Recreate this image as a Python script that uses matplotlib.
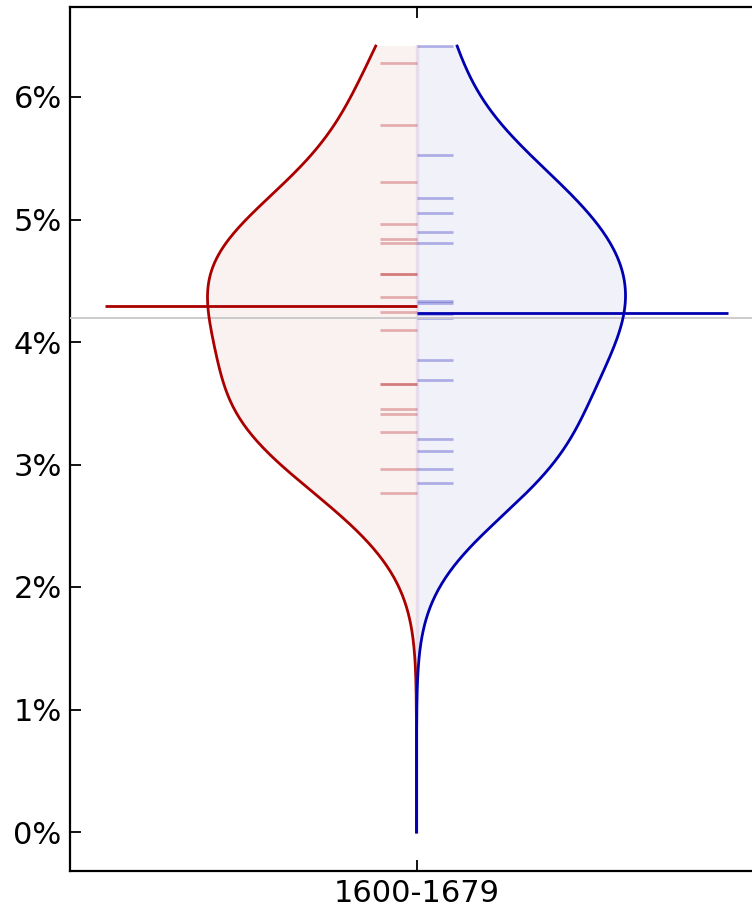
import numpy as np
import matplotlib
matplotlib.use("Agg")
import matplotlib.pyplot as plt
from matplotlib.ticker import FixedLocator, FuncFormatter

# Yearly rates (%) for the two groups, 1600-1679
period = "1600-1679"
red_values = [6.28, 5.77, 5.31, 4.96, 4.84, 4.81, 4.555, 4.555, 4.37, 4.245,
              4.10, 3.657, 3.657, 3.453, 3.415, 3.268, 2.966, 2.765]
blue_values = [6.416, 5.527, 5.178, 5.05, 4.90, 4.81, 4.335, 4.32, 4.225, 4.20,
               3.857, 3.69, 3.212, 3.11, 2.963, 2.845]
red_center = 4.29
blue_center = 4.24
overall_center = 4.197
y_ticks = [0, 1, 2, 3, 4, 5, 6]

RED = "#aa0000"
BLUE = "#0000b0"


def gaussian_kde(data, grid):
    data = np.asarray(data, float)
    n = len(data)
    bw = data.std(ddof=1) * n ** (-1 / 5)
    z = (grid[:, None] - data[None, :]) / bw
    return np.exp(-0.5 * z ** 2).sum(axis=1) / (n * bw * np.sqrt(2 * np.pi))


fig = plt.figure(figsize=(7.52, 9.11), dpi=100)
ax = fig.add_axes([70 / 752, 40 / 911, 693 / 752, 864 / 911])

pos = 1.0
half_width = 0.3016
rug_len = 0.052
line_len = 0.45

top = max(max(red_values), max(blue_values))
grid = np.linspace(0, top, 400)

for vals, side, color, center in ((red_values, -1, RED, red_center),
                                  (blue_values, 1, BLUE, blue_center)):
    dens = gaussian_kde(vals, grid)
    w = dens / dens.max() * half_width
    ax.fill_betweenx(grid, pos, pos + side * w, facecolor=color, alpha=0.055,
                     linewidth=0, zorder=1)
    for v in vals:
        ax.plot([pos, pos + side * rug_len], [v, v], color=color, alpha=0.28,
                lw=2, solid_capstyle="butt", zorder=2)
    ax.plot(pos + side * w, grid, color=color, lw=2, zorder=4)
    ax.plot([pos, pos + side * line_len], [center, center], color=color, lw=2,
            solid_capstyle="butt", zorder=5)

ax.plot([pos, pos], [0, top], color="#905090", alpha=0.12, lw=2.5, zorder=2)
ax.axhline(overall_center, color="#c8c8c8", lw=1.3, zorder=3)

ax.set_xlim(0.5, 1.5)
ax.set_ylim(-39 / 122.5, 6 + 90 / 122.5)
ax.yaxis.set_major_locator(FixedLocator(y_ticks))
ax.yaxis.set_major_formatter(FuncFormatter(lambda v, p: f"{v:.0f}%"))
ax.set_xticks([pos])
ax.set_xticklabels([period])

for s in ax.spines.values():
    s.set_linewidth(1.6)
ax.tick_params(direction="in", length=8, width=1.3, labelsize=22,
               top=True, right=True, pad=6)

fig.savefig("out.png", dpi=100)
